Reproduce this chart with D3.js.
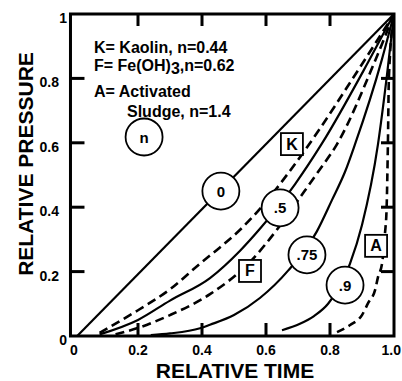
<!DOCTYPE html>
<html>
<head>
<meta charset="utf-8">
<script src="https://cdn.jsdelivr.net/npm/d3@7"></script>
<style>
  body { margin: 0; background: #fff; }
  text { font-family: "Liberation Sans", Arial, Helvetica, sans-serif; font-weight: bold; fill: #000; }
</style>
</head>
<body>
<svg id="chart"></svg>
<script>
// courbes pression relative / temps relatif
const tickVals = [0, 0.2, 0.4, 0.6, 0.8, 1];
const innerTicks = [0.2, 0.4, 0.6, 0.8];
const xTickLabels = ["0", "0.2", "0.4", "0.6", "0.8", "1.0"];
const yTickLabels = ["0", "0.2", "0.4", "0.6", "0.8", "1"];

// solid : n = 0, .5, .75, .9
const n0T = [0.01, 1];
const n0P = [0, 1];
const n05T = [0.08, 0.2, 0.3, 0.425, 0.519, 0.581, 0.691, 0.775, 0.919, 1];
const n05P = [0.005, 0.05, 0.11, 0.18, 0.265, 0.333, 0.472, 0.598, 0.85, 1];
const n075T = [0.24, 0.3, 0.394, 0.425, 0.5, 0.581, 0.669, 0.759, 0.806, 0.847, 0.878, 0.9625, 1];
const n075P = [0.003, 0.008, 0.024, 0.035, 0.065, 0.118, 0.203, 0.325, 0.422, 0.51, 0.595, 0.86, 1];
const n09T = [0.65, 0.706, 0.75, 0.794, 0.8625, 0.9, 0.95, 0.978, 1];
const n09P = [0.018, 0.038, 0.062, 0.1, 0.225, 0.345, 0.596, 0.81, 1];

// dashed : K (kaolin), F (Fe(OH)3), A (activated sludge)
const kT = [0.08, 0.2, 0.3, 0.394, 0.456, 0.519, 0.581, 0.669, 0.731, 0.894, 1];
const kP = [0.01, 0.08, 0.145, 0.225, 0.275, 0.33, 0.395, 0.505, 0.59, 0.835, 1];
const fT = [0.13, 0.2, 0.3, 0.425, 0.55, 0.634, 0.706, 0.763, 0.822, 0.941, 1];
const fP = [0.005, 0.025, 0.065, 0.13, 0.23, 0.33, 0.43, 0.51, 0.596, 0.855, 1];
const aT = [0.822, 0.863, 0.9, 0.919, 0.941, 0.95, 0.963, 0.972, 0.977, 0.981, 0.984, 1];
const aP = [0.012, 0.034, 0.065, 0.102, 0.143, 0.183, 0.227, 0.32, 0.40, 0.6, 0.8, 1];

// étiquettes (cercles = n, carrés = matériaux)
const labelText = ["n", "0", ".5", ".75", ".9", "K", "F", "A"];
const labelT = [0.219, 0.459, 0.644, 0.728, 0.847, 0.681, 0.55, 0.944];
const labelP = [0.618, 0.45, 0.398, 0.252, 0.158, 0.596, 0.202, 0.28];
const labelShape = ["circle", "circle", "circle", "circle", "circle", "box", "box", "box"];

const legendLines = ["K= Kaolin, n=0.44", "F= Fe(OH)", "A= Activated", "Sludge, n=1.4"];

const W = 402, H = 381;
const svg = d3.select("#chart").attr("width", W).attr("height", H);

const x = d3.scaleLinear().domain([0, 1]).range([74, 394]);
const y = d3.scaleLinear().domain([0, 1]).range([336, 14]);
const x0 = x(-0.011);

// courbes
const line = d3.line()
  .x(d => x(d[0])).y(d => y(d[1]))
  .curve(d3.curveMonotoneX);

const series = [
  {t: n0T, p: n0P, dash: null},
  {t: n05T, p: n05P, dash: null},
  {t: n075T, p: n075P, dash: null},
  {t: n09T, p: n09P, dash: null},
  {t: kT, p: kP, dash: "9,5"},
  {t: fT, p: fP, dash: "9,5"},
  {t: aT, p: aP, dash: "8,5"}
];

svg.append("g").selectAll("path")
  .data(series).enter().append("path")
  .attr("d", s => line(s.t.map((t, i) => [t, s.p[i]])))
  .attr("fill", "none").attr("stroke", "#000")
  .attr("stroke-width", s => s.dash ? 2.6 : 2.2)
  .attr("stroke-dasharray", s => s.dash);

// cadre
svg.append("rect")
  .attr("x", x0).attr("y", y(1))
  .attr("width", x(1) - x0).attr("height", y(0) - y(1))
  .attr("fill", "none").attr("stroke", "#000").attr("stroke-width", 3);

// petites graduations vers l'intérieur, sur les 4 côtés
const tk = svg.append("g").attr("fill", "#000");
innerTicks.forEach(d => {
  tk.append("rect").attr("x", x(d) - 1.5).attr("y", y(0) - 13).attr("width", 3).attr("height", 13);
  tk.append("rect").attr("x", x(d) - 1.5).attr("y", y(1)).attr("width", 3).attr("height", 12);
  tk.append("rect").attr("x", x0).attr("y", y(d) - 1.5).attr("width", 14).attr("height", 3);
  tk.append("rect").attr("x", x(1) - 13).attr("y", y(d) - 1.5).attr("width", 13).attr("height", 3);
});

// libellés des axes
svg.append("g").selectAll("text")
  .data(tickVals).enter().append("text")
  .attr("x", d => d == 1 ? 401 : x(d)).attr("y", 355)
  .attr("text-anchor", d => d == 1 ? "end" : "middle").attr("font-size", 14)
  .text((d, i) => xTickLabels[i]);

svg.append("g").selectAll("text")
  .data(tickVals).enter().append("text")
  .attr("x", (d, i) => (i == 0 || i == 5) ? 67 : 59)
  .attr("y", d => y(d) + 9)
  .attr("text-anchor", "end").attr("font-size", 14)
  .text((d, i) => yTickLabels[i]);

svg.append("text")
  .attr("x", 235).attr("y", 378)
  .attr("text-anchor", "middle").attr("font-size", 21)
  .text("RELATIVE TIME");

svg.append("text")
  .attr("transform", "translate(33,164) rotate(-90)")
  .attr("text-anchor", "middle").attr("font-size", 21)
  .text("RELATIVE PRESSURE");

// légende
const leg = svg.append("g").attr("font-size", 16);
leg.append("text").attr("x", 94).attr("y", 53).text(legendLines[0]);
const l2 = leg.append("text").attr("x", 94).attr("y", 71).text(legendLines[1]);
l2.append("tspan").attr("dy", 3).text("3");
l2.append("tspan").attr("dy", -3).text(",n=0.62");
leg.append("text").attr("x", 94).attr("y", 97).text(legendLines[2]);
leg.append("text").attr("x", 127).attr("y", 117).text(legendLines[3]);

// marqueurs
const labels = svg.append("g").selectAll("g")
  .data(labelText).enter().append("g")
  .attr("transform", (d, i) => `translate(${x(labelT[i])},${y(labelP[i])})`);

labels.filter((d, i) => labelShape[i] == "circle")
  .append("circle").attr("r", 18.5)
  .attr("fill", "#fff").attr("stroke", "#000").attr("stroke-width", 1.8);

labels.filter((d, i) => labelShape[i] == "box")
  .append("rect").attr("x", -11).attr("y", -11).attr("width", 22).attr("height", 22)
  .attr("fill", "#fff").attr("stroke", "#000").attr("stroke-width", 1.8);

labels.append("text")
  .attr("text-anchor", "middle").attr("dy", 5.5)
  .attr("font-size", (d, i) => labelShape[i] == "box" ? 16 : 15)
  .text(d => d);
</script>
</body>
</html>
